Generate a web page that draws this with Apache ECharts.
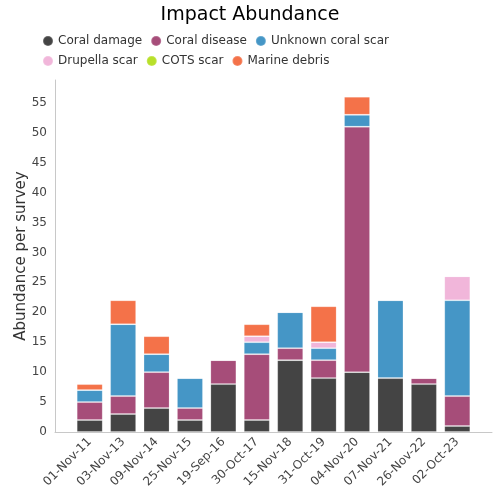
<!DOCTYPE html>
<html><head><meta charset="utf-8">
<script src="https://cdn.jsdelivr.net/npm/echarts@6/dist/echarts.min.js"></script>
<style>html,body{margin:0;padding:0;background:#fff}#c{width:500px;height:500px}</style>
</head><body><div id="c"></div>
<script>
const categories = ['01-Nov-11','03-Nov-13','09-Nov-14','25-Nov-15','19-Sep-16','30-Oct-17','15-Nov-18','31-Oct-19','04-Nov-20','07-Nov-21','26-Nov-22','02-Oct-23'];
const coralDamage   = [2, 3, 4, 2, 8, 2, 12, 9, 10, 9, 8, 1];
const coralDisease  = [3, 3, 6, 2, 4, 11, 2, 3, 41, 0, 1, 5];
const unknownScar   = [2, 12, 3, 5, 0, 2, 6, 2, 2, 13, 0, 16];
const drupellaScar  = [0, 0, 0, 0, 0, 1, 0, 1, 0, 0, 0, 4];
const cotsScar      = [0, 0, 0, 0, 0, 0, 0, 0, 0, 0, 0, 0];
const marineDebris  = [1, 4, 3, 0, 0, 2, 0, 6, 3, 0, 0, 0];
const yTicks = [0,5,10,15,20,25,30,35,40,45,50,55];

const seriesDefs = [
  ['Coral damage', coralDamage, '#444444'],
  ['Coral disease', coralDisease, '#a64d79'],
  ['Unknown coral scar', unknownScar, '#4596c6'],
  ['Drupella scar', drupellaScar, '#f1b6da'],
  ['COTS scar', cotsScar, '#b8e02a'],
  ['Marine debris', marineDebris, '#f47249']
];
const font = 'DejaVu Sans';
const axisColor = '#c8c8c8';
const chart = echarts.init(document.getElementById('c'), null, {renderer:'canvas'});
chart.setOption({
  animation: false,
  textStyle: {fontFamily: font},
  title: {text: 'Impact Abundance', left: 'center', top: 1,
    textStyle: {fontFamily: font, fontSize: 19, fontWeight: 'normal', color: '#000'}},
  legend: {
    left: 37, top: 30, width: 380, itemGap: 8, itemWidth: 10, itemHeight: 10,
    icon: 'circle', textStyle: {fontFamily: font, fontSize: 12, color: '#333'},
    data: seriesDefs.map(s => s[0])
  },
  grid: [
    {left: 73, right: 26, top: 80, bottom: 68, containLabel: false},
    {left: 55, right: 8, top: 80, bottom: 68, containLabel: false}
  ],
  xAxis: [{
    type: 'category', data: categories, gridIndex: 0,
    axisLine: {show: false},
    axisTick: {show: false}, splitLine: {show: false},
    axisLabel: {rotate: 45, fontFamily: font, fontSize: 12, color: '#444', margin: 8, interval: 0}
  }, {
    type: 'value', gridIndex: 1, min: 0, max: 1,
    axisLine: {show: true, lineStyle: {color: axisColor}},
    axisTick: {show: false}, splitLine: {show: false}, axisLabel: {show: false}
  }],
  yAxis: [{
    type: 'value', gridIndex: 0, min: 0, max: 58.8, interval: 5, offset: 18,
    name: 'Abundance per survey', nameLocation: 'middle', nameGap: 26, nameMoveOverlap: false,
    nameTextStyle: {fontFamily: font, fontSize: 15, color: '#333'},
    axisLine: {show: true, lineStyle: {color: axisColor}},
    axisTick: {show: false}, splitLine: {show: false},
    axisLabel: {fontFamily: font, fontSize: 12, color: '#444', showMaxLabel: false,
      formatter: v => yTicks.includes(v) ? String(v) : ''}
  }, {
    type: 'value', gridIndex: 1, min: 0, max: 1, show: false
  }],
  series: seriesDefs.map(([name, vals, color]) => ({
    name, type: 'bar', stack: 'a', barWidth: 26, xAxisIndex: 0, yAxisIndex: 0,
    itemStyle: {color, borderColor: 'rgba(255,255,255,0.18)', borderWidth: 1},
    data: vals
  }))
});
</script></body></html>
